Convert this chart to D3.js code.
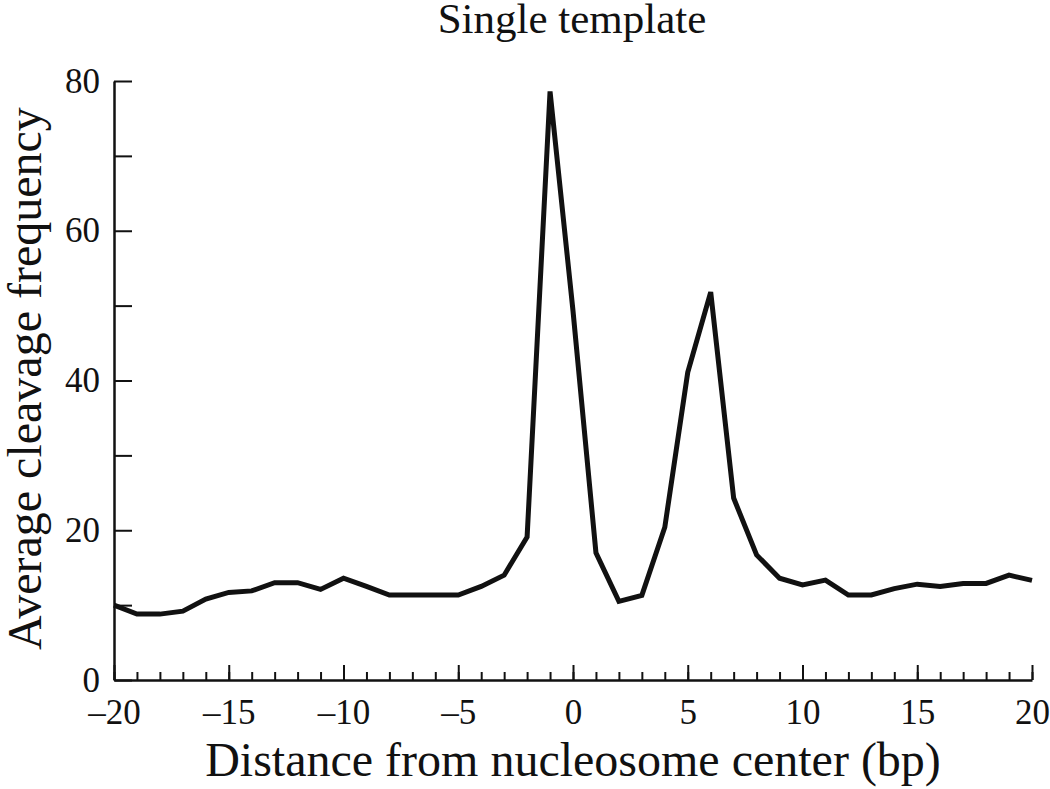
<!DOCTYPE html>
<meta charset="utf-8">
<style>
  body { margin: 0; background: #fff; }
  svg text { font-family: "Liberation Serif", "DejaVu Serif", serif; fill: #111; }
  .axis path, .axis line { stroke: #111; }
</style>
<svg width="1050" height="789"></svg>
<script src="https://cdn.jsdelivr.net/npm/d3@7/dist/d3.min.js"></script>
<script>

// distance from nucleosome center (bp)
var positions = d3.range(-20, 21);
// average cleavage frequency
var cleavage = [10.0, 8.8, 8.8, 9.2, 10.8, 11.7, 11.9, 13.0, 13.0, 12.1,
                13.6, 12.5, 11.35, 11.35, 11.35, 11.35, 12.5, 14.0, 19.1, 78.6,
                49.3, 17.0, 10.5, 11.3, 20.4, 41.1, 51.8, 24.3, 16.7, 13.6,
                12.7, 13.35, 11.35, 11.35, 12.2, 12.8, 12.5, 12.9, 12.9, 14.0, 13.3];
var xMajorTicks = [-20, -15, -10, -5, 0, 5, 10, 15, 20];
var yTicks = [0, 10, 20, 30, 40, 50, 60, 70, 80];

var svg = d3.select("svg"),
    plotLeft = 114, plotRight = 1032, plotTop = 81, plotBottom = 680;

var x = d3.scaleLinear().domain([-20, 20]).range([plotLeft, plotRight]);
var y = d3.scaleLinear().domain([0, 80]).range([plotBottom, plotTop]);

var fmt = function(d) { return d < 0 ? "\u2013" + Math.abs(d) : "" + d; };

// minor x ticks (every bp)
svg.append("g")
    .attr("class", "axis")
    .attr("transform", "translate(0," + plotBottom + ")")
    .call(d3.axisBottom(x).tickValues(positions).tickSize(-8).tickSizeOuter(0).tickFormat(""))
    .call(g => g.select(".domain").remove())
    .call(g => g.selectAll("line").attr("stroke-width", 2));

// major x ticks with labels
svg.append("g")
    .attr("class", "axis")
    .attr("transform", "translate(0," + plotBottom + ")")
    .call(d3.axisBottom(x).tickValues(xMajorTicks).tickSize(-15).tickSizeOuter(0).tickPadding(19).tickFormat(fmt))
    .call(g => g.select(".domain").attr("stroke-width", 2.5))
    .call(g => g.selectAll("line").attr("stroke-width", 2))
    .call(g => g.selectAll("text").attr("font-size", 35).attr("font-family", null));

// y axis, ticks pointing inward, labels every 20
svg.append("g")
    .attr("class", "axis")
    .attr("transform", "translate(" + plotLeft + ",0)")
    .call(d3.axisLeft(y).tickValues(yTicks).tickSize(-18).tickSizeOuter(0).tickPadding(14)
      .tickFormat(d => d % 20 === 0 ? d : ""))
    .call(g => g.select(".domain").attr("stroke-width", 2.5))
    .call(g => g.selectAll("line").attr("stroke-width", 2))
    .call(g => g.selectAll("text").attr("font-size", 35).attr("font-family", null));

var line = d3.line()
    .x((d, i) => x(positions[i]))
    .y(d => y(d));

svg.append("path")
    .datum(cleavage)
    .attr("fill", "none")
    .attr("stroke", "#111")
    .attr("stroke-width", 5)
    .attr("stroke-linejoin", "miter")
    .attr("stroke-miterlimit", 2)
    .attr("d", line);

// title
svg.append("text")
    .attr("x", 572)
    .attr("y", 33)
    .attr("text-anchor", "middle")
    .attr("font-size", 43)
    .text("Single template");

// axis titles
svg.append("text")
    .attr("x", 573)
    .attr("y", 776)
    .attr("text-anchor", "middle")
    .attr("font-size", 48)
    .text("Distance from nucleosome center (bp)");

svg.append("text")
    .attr("transform", "translate(41," + ((plotTop + plotBottom) / 2 - 2) + ") rotate(-90)")
    .attr("text-anchor", "middle")
    .attr("font-size", 48)
    .text("Average cleavage frequency");

</script>
